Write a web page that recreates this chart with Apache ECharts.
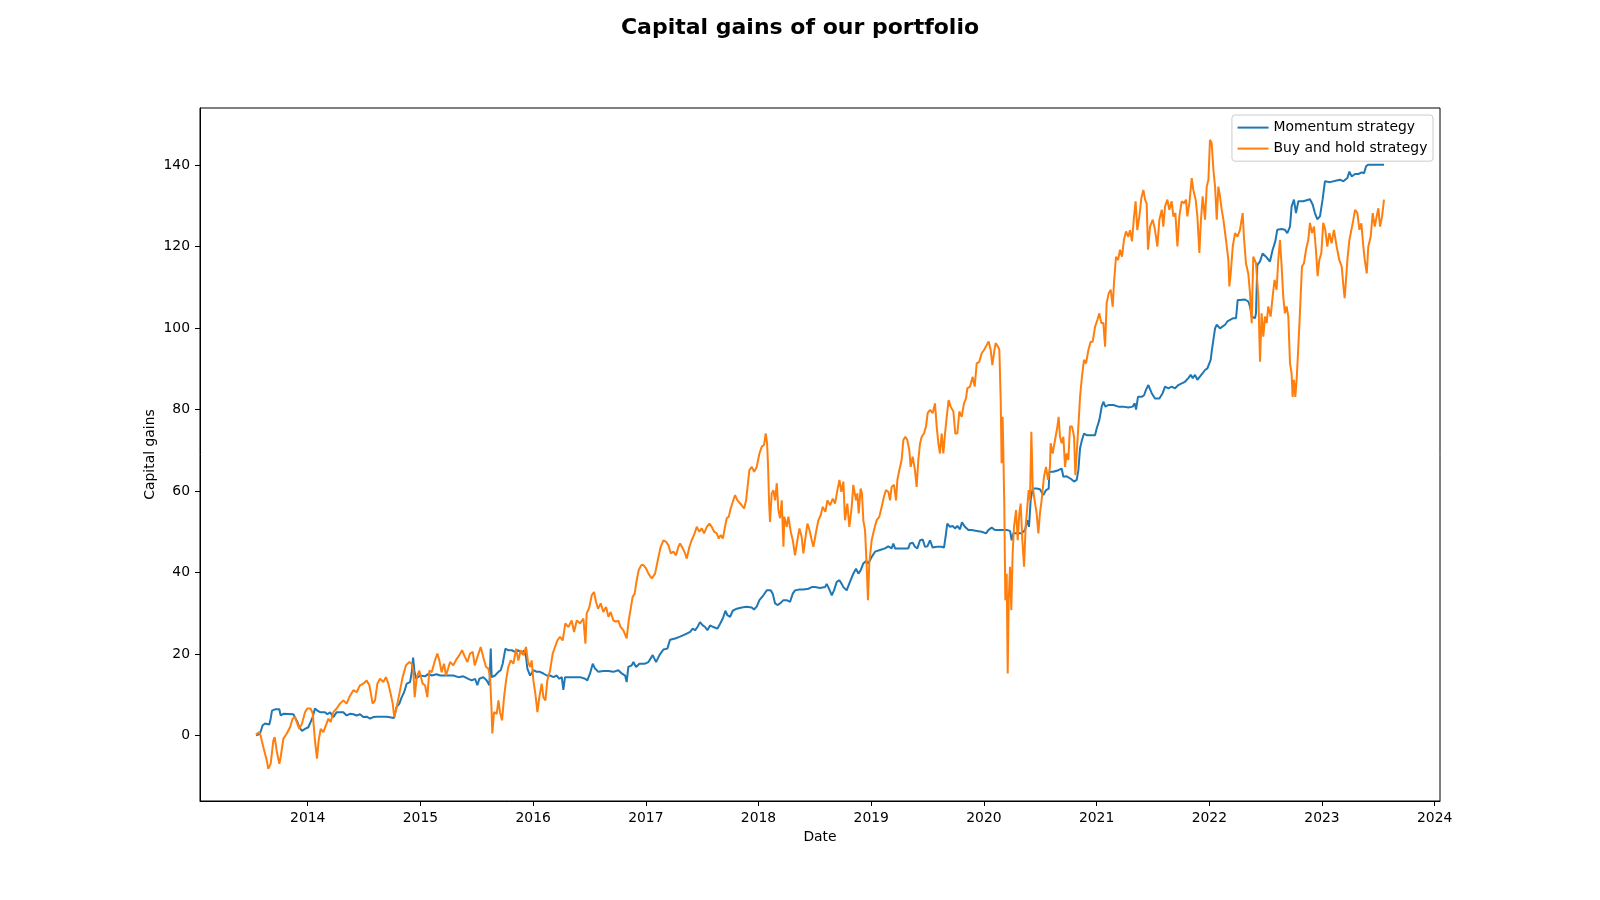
<!DOCTYPE html>
<html>
<head>
<meta charset="utf-8">
<script src="https://cdn.jsdelivr.net/npm/echarts@6/dist/echarts.min.js"></script>
<style>
html,body{margin:0;padding:0;background:#fff;}
#chart{width:1600px;height:900px;}
</style>
</head>
<body>
<div id="chart"></div>
<script>
// Dates are given as decimal years (e.g. 2013.541 = mid July 2013)
const momentumYear = [
2013.541,2013.576,2013.600,2013.621,2013.659,2013.671,2013.683,2013.710,2013.748,2013.760,2013.784,2013.872,2013.908,2013.925,2013.949,2013.976,
2014.005,2014.026,2014.044,2014.064,2014.085,2014.109,2014.153,2014.174,2014.198,2014.227,2014.257,2014.316,2014.345,2014.375,2014.405,2014.434,
2014.464,2014.493,2014.523,2014.553,2014.582,2014.612,2014.701,2014.766,2014.789,2014.813,2014.834,2014.855,2014.878,2014.908,2014.923,2014.935,
2014.946,2014.961,2014.996,2015.041,2015.071,2015.100,2015.144,2015.174,2015.233,2015.292,2015.337,2015.381,2015.425,2015.455,2015.485,2015.505,
2015.523,2015.558,2015.588,2015.612,2015.624,2015.632,2015.662,2015.692,2015.712,2015.730,2015.754,2015.780,2015.810,2015.840,2015.869,2015.899,
2015.919,2015.937,2015.949,2015.973,2016.002,2016.032,2016.061,2016.091,2016.120,2016.150,2016.180,2016.209,2016.233,2016.254,2016.268,2016.283,
2016.357,2016.416,2016.461,2016.481,2016.505,2016.529,2016.549,2016.579,2016.623,2016.668,2016.712,2016.756,2016.786,2016.816,2016.830,2016.845,
2016.875,2016.890,2016.913,2016.943,2016.993,2017.023,2017.061,2017.091,2017.121,2017.156,2017.191,2017.215,2017.260,2017.298,2017.334,2017.363,
2017.393,2017.416,2017.437,2017.458,2017.481,2017.505,2017.526,2017.546,2017.570,2017.600,2017.635,2017.659,2017.683,2017.706,2017.724,2017.748,
2017.771,2017.807,2017.851,2017.895,2017.940,2017.960,2017.984,2018.008,2018.043,2018.073,2018.088,2018.108,2018.126,2018.147,2018.168,2018.191,
2018.221,2018.250,2018.280,2018.304,2018.324,2018.363,2018.398,2018.443,2018.472,2018.502,2018.546,2018.590,2018.605,2018.629,2018.650,2018.670,
2018.694,2018.718,2018.738,2018.753,2018.782,2018.806,2018.841,2018.865,2018.886,2018.906,2018.930,2018.954,2018.974,2019.004,2019.034,2019.078,
2019.122,2019.152,2019.181,2019.196,2019.211,2019.241,2019.285,2019.329,2019.344,2019.368,2019.388,2019.409,2019.433,2019.457,2019.477,2019.498,
2019.522,2019.545,2019.581,2019.625,2019.646,2019.664,2019.675,2019.699,2019.723,2019.743,2019.764,2019.788,2019.805,2019.832,2019.862,2019.891,
2019.936,2019.980,2020.019,2020.039,2020.069,2020.098,2020.143,2020.202,2020.232,2020.246,2020.261,2020.291,2020.335,2020.365,2020.385,2020.400,
2020.415,2020.433,2020.468,2020.497,2020.527,2020.551,2020.575,2020.581,2020.616,2020.660,2020.690,2020.705,2020.734,2020.770,2020.800,2020.823,
2020.838,2020.853,2020.870,2020.888,2020.912,2020.956,2020.986,2021.001,2021.024,2021.045,2021.060,2021.078,2021.104,2021.149,2021.193,2021.237,
2021.281,2021.320,2021.338,2021.350,2021.367,2021.400,2021.421,2021.438,2021.459,2021.474,2021.489,2021.518,2021.557,2021.586,2021.607,2021.637,
2021.666,2021.696,2021.725,2021.755,2021.784,2021.814,2021.835,2021.853,2021.873,2021.894,2021.918,2021.941,2021.962,2021.983,2022.000,2022.012,
2022.021,2022.036,2022.051,2022.066,2022.095,2022.119,2022.140,2022.160,2022.184,2022.213,2022.237,2022.252,2022.272,2022.317,2022.346,2022.361,
2022.376,2022.405,2022.414,2022.426,2022.449,2022.473,2022.503,2022.538,2022.562,2022.585,2022.603,2022.642,2022.671,2022.692,2022.716,2022.730,
2022.751,2022.769,2022.790,2022.834,2022.893,2022.917,2022.937,2022.958,2022.982,2023.005,2023.026,2023.071,2023.130,2023.160,2023.190,2023.225,
2023.243,2023.263,2023.293,2023.323,2023.352,2023.373,2023.391,2023.411,2023.550
];
const momentumGain = [
0.0,0.4,2.5,2.9,2.7,4.1,6.1,6.4,6.4,4.9,5.3,5.2,3.3,2.0,1.1,1.6,
2.0,3.3,4.5,6.6,6.1,5.7,5.7,5.2,5.7,4.5,5.7,5.7,4.9,5.3,5.2,4.9,
5.2,4.5,4.6,4.1,4.5,4.6,4.6,4.3,7.0,7.8,9.4,10.6,12.7,13.1,15.5,19.1,
15.9,13.9,14.7,14.5,15.1,14.7,15.0,14.7,14.7,14.7,14.3,14.5,13.9,13.5,13.9,12.3,
13.9,14.3,13.5,12.3,21.3,14.3,14.7,15.6,16.0,17.6,21.3,20.9,20.9,20.5,20.9,20.1,
20.9,19.2,16.4,14.7,16.0,15.6,15.6,15.2,14.7,14.7,14.3,14.7,13.9,14.3,11.2,14.3,
14.3,14.3,13.9,13.5,15.2,17.6,16.4,15.6,15.8,15.8,15.6,16.0,15.2,14.7,13.1,16.8,
17.2,18.0,16.8,17.6,17.6,18.0,19.7,18.0,19.7,21.1,21.3,23.5,23.8,24.2,24.6,25.0,
25.4,26.2,25.8,26.6,27.8,27.0,26.6,25.8,27.0,26.6,26.2,27.4,28.7,30.6,29.5,29.1,
30.6,31.1,31.4,31.6,31.4,30.9,31.6,33.2,34.4,35.6,36.0,35.6,34.8,32.4,32.0,32.4,
33.2,33.2,32.8,34.8,35.6,35.8,35.8,36.0,36.4,36.4,36.2,36.4,37.2,35.8,34.4,35.6,
37.7,38.1,37.2,36.4,35.6,37.3,39.7,40.9,39.7,40.5,42.2,42.8,42.2,43.8,45.1,45.5,
45.9,46.4,45.9,47.1,45.9,45.9,45.9,45.9,47.1,47.3,46.3,45.9,47.9,48.1,46.3,46.4,
47.9,46.1,46.3,46.3,46.1,49.6,52.0,51.2,51.4,50.8,51.4,50.6,52.3,51.2,50.4,50.4,
50.2,50.0,49.6,50.4,51.0,50.4,50.4,50.4,50.2,47.9,49.6,49.6,49.6,50.4,52.8,51.2,
57.8,60.6,60.6,60.4,59.0,60.2,60.6,64.7,64.7,65.1,65.5,63.5,63.6,63.0,62.3,62.7,
65.1,70.5,72.5,74.1,73.7,73.7,73.7,75.4,77.4,80.7,81.9,80.7,81.1,81.1,80.7,80.7,
80.5,80.7,81.5,80.0,83.1,83.1,83.5,84.8,86.0,86.0,84.0,82.7,82.7,84.0,85.6,85.2,
85.6,85.2,86.0,86.4,86.8,87.7,88.5,87.7,88.5,87.3,88.1,88.9,89.7,90.1,90.5,92.2,
94.2,94.6,99.9,100.8,99.9,100.4,100.8,101.6,102.0,102.4,102.4,106.9,106.9,107.0,106.5,105.3,
102.8,102.4,103.6,115.5,116.3,118.3,117.5,116.3,119.2,121.2,124.1,124.3,124.1,123.3,124.9,129.8,
131.5,128.2,131.1,131.1,131.6,130.3,128.2,126.7,127.4,131.5,136.0,135.8,136.2,136.4,136.0,136.8,
138.4,137.2,137.8,137.8,138.2,138.0,139.7,140.1,140.1
];
const buyHoldYear = [
2013.541,2013.570,2013.582,2013.606,2013.636,2013.650,2013.671,2013.695,2013.707,2013.724,2013.748,2013.760,2013.784,2013.813,2013.843,2013.866,
2013.887,2013.902,2013.925,2013.949,2013.976,2013.996,2014.026,2014.044,2014.064,2014.082,2014.097,2014.115,2014.138,2014.162,2014.183,2014.203,
2014.227,2014.257,2014.286,2014.316,2014.345,2014.369,2014.405,2014.434,2014.464,2014.493,2014.523,2014.547,2014.576,2014.597,2014.618,2014.641,
2014.671,2014.694,2014.715,2014.736,2014.754,2014.768,2014.789,2014.813,2014.842,2014.872,2014.902,2014.922,2014.937,2014.949,2014.967,2014.990,
2015.020,2015.041,2015.061,2015.079,2015.100,2015.129,2015.150,2015.168,2015.188,2015.209,2015.227,2015.263,2015.292,2015.322,2015.346,2015.369,
2015.396,2015.417,2015.440,2015.464,2015.482,2015.505,2015.535,2015.558,2015.582,2015.603,2015.618,2015.630,2015.638,2015.653,2015.677,2015.692,
2015.706,2015.724,2015.742,2015.760,2015.780,2015.801,2015.825,2015.849,2015.869,2015.890,2015.913,2015.937,2015.955,2015.973,2015.987,2016.002,
2016.020,2016.038,2016.055,2016.076,2016.091,2016.109,2016.126,2016.150,2016.174,2016.194,2016.215,2016.239,2016.262,2016.286,2016.313,2016.342,
2016.363,2016.387,2016.416,2016.446,2016.464,2016.475,2016.499,2016.520,2016.540,2016.558,2016.576,2016.600,2016.623,2016.647,2016.668,2016.688,
2016.712,2016.736,2016.756,2016.777,2016.801,2016.818,2016.830,2016.848,2016.866,2016.883,2016.901,2016.919,2016.937,2016.960,2016.979,2017.002,
2017.023,2017.053,2017.082,2017.112,2017.132,2017.156,2017.180,2017.200,2017.221,2017.245,2017.268,2017.289,2017.304,2017.328,2017.348,2017.363,
2017.387,2017.407,2017.428,2017.452,2017.475,2017.496,2017.517,2017.541,2017.564,2017.585,2017.606,2017.629,2017.647,2017.665,2017.683,2017.700,
2017.718,2017.736,2017.753,2017.771,2017.792,2017.813,2017.830,2017.851,2017.872,2017.890,2017.901,2017.919,2017.940,2017.961,2017.984,2018.008,
2018.029,2018.049,2018.064,2018.076,2018.085,2018.094,2018.102,2018.117,2018.132,2018.147,2018.162,2018.176,2018.191,2018.206,2018.221,2018.229,
2018.250,2018.265,2018.286,2018.304,2018.324,2018.345,2018.363,2018.383,2018.398,2018.413,2018.434,2018.452,2018.472,2018.487,2018.511,2018.531,
2018.552,2018.570,2018.593,2018.611,2018.635,2018.659,2018.679,2018.700,2018.718,2018.735,2018.753,2018.767,2018.788,2018.806,2018.827,2018.841,
2018.865,2018.877,2018.889,2018.906,2018.918,2018.930,2018.945,2018.960,2018.971,2018.983,2019.004,2019.025,2019.048,2019.072,2019.093,2019.113,
2019.131,2019.152,2019.167,2019.181,2019.202,2019.220,2019.232,2019.249,2019.270,2019.285,2019.303,2019.320,2019.338,2019.350,2019.368,2019.388,
2019.403,2019.418,2019.433,2019.448,2019.468,2019.486,2019.501,2019.522,2019.545,2019.566,2019.581,2019.596,2019.610,2019.625,2019.640,2019.655,
2019.670,2019.687,2019.705,2019.729,2019.746,2019.764,2019.782,2019.803,2019.823,2019.841,2019.853,2019.876,2019.900,2019.918,2019.936,2019.959,
2019.980,2020.001,2020.024,2020.042,2020.060,2020.075,2020.089,2020.104,2020.125,2020.137,2020.149,2020.157,2020.166,2020.172,2020.181,2020.190,
2020.202,2020.211,2020.220,2020.232,2020.243,2020.255,2020.267,2020.285,2020.300,2020.314,2020.326,2020.341,2020.356,2020.370,2020.385,2020.397,
2020.409,2020.421,2020.433,2020.450,2020.468,2020.483,2020.497,2020.512,2020.533,2020.551,2020.569,2020.586,2020.592,2020.610,2020.631,2020.652,
2020.663,2020.675,2020.690,2020.705,2020.720,2020.734,2020.749,2020.764,2020.782,2020.800,2020.811,2020.823,2020.838,2020.853,2020.870,2020.888,
2020.906,2020.927,2020.947,2020.965,2020.986,2021.007,2021.024,2021.042,2021.060,2021.075,2021.089,2021.107,2021.125,2021.143,2021.154,2021.172,
2021.190,2021.208,2021.225,2021.243,2021.261,2021.281,2021.296,2021.314,2021.332,2021.346,2021.361,2021.379,2021.397,2021.415,2021.430,2021.444,
2021.456,2021.474,2021.498,2021.518,2021.539,2021.557,2021.578,2021.592,2021.607,2021.628,2021.645,2021.666,2021.681,2021.699,2021.717,2021.734,
2021.755,2021.776,2021.793,2021.805,2021.823,2021.844,2021.858,2021.879,2021.894,2021.912,2021.924,2021.941,2021.962,2021.977,2021.992,2022.006,
2022.021,2022.036,2022.051,2022.066,2022.080,2022.095,2022.110,2022.125,2022.148,2022.169,2022.178,2022.190,2022.208,2022.228,2022.249,2022.272,
2022.296,2022.308,2022.325,2022.346,2022.361,2022.376,2022.390,2022.414,2022.435,2022.450,2022.464,2022.479,2022.494,2022.509,2022.523,2022.544,
2022.562,2022.579,2022.597,2022.612,2022.627,2022.642,2022.656,2022.671,2022.686,2022.701,2022.716,2022.730,2022.739,2022.751,2022.763,2022.775,
2022.790,2022.804,2022.822,2022.840,2022.858,2022.878,2022.893,2022.911,2022.929,2022.946,2022.961,2022.976,2022.994,2023.011,2023.029,2023.047,
2023.065,2023.085,2023.106,2023.130,2023.153,2023.175,2023.190,2023.201,2023.213,2023.225,2023.243,2023.261,2023.278,2023.293,2023.314,2023.332,
2023.349,2023.367,2023.379,2023.397,2023.411,2023.432,2023.450,2023.468,2023.485,2023.500,2023.515,2023.533,2023.550
];
const buyHoldGain = [
0.2,0.8,-0.1,-2.9,-6.1,-8.2,-7.0,-1.2,-0.4,-3.7,-7.0,-5.3,-0.8,0.4,2.0,4.1,
4.5,3.3,1.6,2.9,5.7,6.6,6.6,5.4,-1.2,-5.7,-1.2,1.6,0.8,2.5,4.1,3.3,
5.7,6.6,7.8,8.6,7.8,9.4,11.1,10.6,12.3,12.7,13.5,12.3,7.8,8.6,12.7,13.9,
13.1,14.3,12.7,10.2,7.8,4.5,7.0,10.2,14.3,17.2,18.0,17.6,15.9,9.4,14.3,15.9,
12.7,12.3,9.4,15.9,15.5,18.4,20.1,18.4,15.5,17.6,14.7,18.0,17.2,18.8,19.7,20.9,
19.2,18.0,20.1,20.5,17.2,19.2,21.7,19.2,16.8,16.4,14.3,7.0,0.5,5.7,5.3,8.6,
5.7,3.7,9.4,13.5,16.8,18.4,17.6,21.3,18.4,20.9,19.7,21.7,18.0,16.8,18.4,13.5,
10.2,5.7,9.4,12.7,9.4,8.6,13.5,15.9,20.1,21.7,23.3,24.2,23.3,27.5,26.6,28.2,
25.4,28.2,27.5,28.7,22.5,29.9,31.5,34.4,35.2,32.8,31.1,32.4,30.3,31.5,29.1,30.3,
28.2,27.9,28.2,26.6,25.8,25.4,23.8,28.2,31.1,34.0,34.8,38.1,40.6,41.8,41.8,41.0,
39.7,38.5,39.7,43.8,46.3,47.9,47.5,46.7,44.7,45.1,44.2,46.3,47.1,45.9,44.7,43.4,
46.3,47.9,49.2,51.2,50.0,50.8,49.6,51.2,52.0,51.2,50.0,49.6,48.3,49.2,48.3,50.8,
53.3,53.7,55.7,57.3,59.0,57.7,57.3,56.5,55.7,57.7,60.6,65.1,65.9,64.7,65.9,69.2,
70.9,71.3,74.1,71.7,65.9,56.9,52.4,59.4,60.2,57.7,61.9,55.3,53.3,57.7,46.3,53.7,
51.2,53.7,50.0,47.9,44.2,47.9,50.8,48.7,44.7,47.9,52.0,50.4,47.9,46.3,50.0,52.8,
54.1,56.1,54.9,57.7,56.5,58.1,56.9,60.2,62.7,59.8,62.3,52.8,56.9,51.2,56.1,61.5,
57.7,59.4,54.5,60.6,59.4,52.8,50.4,41.4,33.2,42.2,47.9,50.4,52.8,53.7,56.1,58.6,
60.2,59.8,57.7,61.0,61.5,57.7,62.7,65.1,67.6,72.5,73.3,72.5,70.0,65.9,68.4,65.1,
61.0,67.6,71.6,73.3,74.1,75.8,79.1,79.9,79.1,81.5,75.8,71.7,69.2,74.1,69.2,74.1,
78.2,82.3,80.7,79.5,74.1,74.1,79.5,78.2,81.5,82.7,85.2,85.6,88.0,85.6,91.3,91.7,
93.8,94.6,95.8,96.7,94.6,90.9,93.8,96.3,95.4,94.6,82.3,66.8,78.2,70.0,56.1,33.2,
39.7,15.2,33.2,41.4,30.7,44.7,51.2,55.3,47.9,54.5,56.9,47.9,41.4,51.2,56.1,60.2,
57.7,74.5,61.0,57.7,54.5,49.6,54.5,57.7,63.5,65.9,62.7,65.9,71.7,69.2,72.5,75.8,
78.2,73.3,71.7,73.3,65.9,69.2,67.6,75.8,75.8,73.3,63.9,69.2,75.8,83.1,88.1,92.2,
91.3,94.6,96.6,96.6,100.3,102.0,103.6,101.2,101.2,95.4,106.1,108.5,109.4,105.2,111.0,117.5,
116.7,119.2,117.5,121.7,123.7,122.4,124.0,121.3,127.4,131.1,124.0,127.4,131.9,133.9,131.5,130.6,
119.2,124.9,126.6,124.1,120.0,126.6,129.0,124.9,129.8,131.5,129.0,131.1,127.4,128.2,120.0,127.4,
131.1,130.6,131.5,127.4,130.6,136.8,133.9,131.5,127.4,118.4,125.7,132.3,126.6,134.7,136.4,146.2,
145.4,138.9,134.7,126.6,134.7,132.3,129.0,126.6,121.6,116.7,110.2,113.4,120.0,123.3,122.4,124.1,
128.2,122.0,115.9,113.3,108.6,101.2,117.5,116.0,107.7,91.7,103.6,97.9,102.8,101.2,105.3,102.8,
107.7,111.8,109.4,116.7,121.6,115.1,107.7,103.6,105.3,102.8,91.3,88.9,83.1,87.3,83.1,87.3,
95.5,103.6,115.1,115.9,119.2,121.6,125.8,123.3,124.9,119.2,112.7,116.7,118.4,125.8,124.1,120.0,
123.3,120.8,124.1,120.0,116.7,115.1,110.2,107.3,111.8,116.7,121.6,124.1,126.6,129.0,128.2,124.1,
125.7,120.0,116.7,113.4,120.0,122.4,128.2,124.9,127.4,129.4,124.9,127.4,131.5
];
const xTickYears = [2014,2015,2016,2017,2018,2019,2020,2021,2022,2023,2024];
const yTickValues = [0,20,40,60,80,100,120,140];
const seriesNames = ['Momentum strategy','Buy and hold strategy'];

const momentumData = momentumYear.map((x, i) => [x, momentumGain[i]]);
const buyHoldData = buyHoldYear.map((x, i) => [x, buyHoldGain[i]]);

const FONT = 'DejaVu Sans';
const chart = echarts.init(document.getElementById('chart'), null, {renderer: 'canvas'});
chart.setOption({
  backgroundColor: '#ffffff',
  animation: false,
  textStyle: {fontFamily: FONT},
  title: {
    text: 'Capital gains of our portfolio',
    left: 'center',
    top: 12,
    textStyle: {fontFamily: FONT, fontSize: 22, fontWeight: 'bold', color: '#000'}
  },
  legend: {
    data: seriesNames,
    orient: 'vertical',
    right: 167,
    top: 115,
    padding: [5.6, 5.6, 5.6, 5.6],
    itemGap: 7,
    itemWidth: 31,
    itemHeight: 2,
    itemTextGap: 17,
    icon: 'rect',
    backgroundColor: 'rgba(255,255,255,0.8)',
    borderColor: '#cccccc',
    borderWidth: 1,
    borderRadius: 3,
    textStyle: {fontFamily: FONT, fontSize: 13.9, color: '#000', lineHeight: 14}
  },
  grid: {
    left: 200, right: 160, top: 108, bottom: 99,
    show: true, borderColor: '#000', borderWidth: 1, backgroundColor: 'transparent',
    containLabel: false
  },
  xAxis: {
    type: 'value',
    min: 2013.044,
    max: 2024.047,
    name: 'Date',
    nameLocation: 'middle',
    nameGap: 29,
    nameTextStyle: {fontFamily: FONT, fontSize: 13.9, color: '#000'},
    axisLine: {show: true, onZero: false, lineStyle: {color: '#000', width: 1}},
    axisTick: {show: true, inside: false, length: 5, lineStyle: {color: '#000', width: 1}, customValues: xTickYears},
    axisLabel: {show: true, margin: 10, fontFamily: FONT, fontSize: 13.9, color: '#000',
      customValues: xTickYears, formatter: v => String(Math.round(v))},
    splitLine: {show: false}
  },
  yAxis: {
    type: 'value',
    min: -16.1,
    max: 154.0,
    name: 'Capital gains',
    nameLocation: 'middle',
    nameGap: 43,
    nameMoveOverlap: false,
    nameTextStyle: {fontFamily: FONT, fontSize: 13.9, color: '#000'},
    axisLine: {show: true, onZero: false, lineStyle: {color: '#000', width: 1}},
    axisTick: {show: true, inside: false, length: 5, lineStyle: {color: '#000', width: 1}, customValues: yTickValues},
    axisLabel: {show: true, margin: 10, fontFamily: FONT, fontSize: 13.9, color: '#000',
      customValues: yTickValues, formatter: v => String(Math.round(v))},
    splitLine: {show: false}
  },
  series: [
    {
      name: seriesNames[0],
      type: 'line',
      data: momentumData,
      showSymbol: false,
      symbol: 'none',
      color: '#1f77b4',
      lineStyle: {color: '#1f77b4', width: 2},
      clip: true,
      z: 2
    },
    {
      name: seriesNames[1],
      type: 'line',
      data: buyHoldData,
      showSymbol: false,
      symbol: 'none',
      color: '#ff7f0e',
      lineStyle: {color: '#ff7f0e', width: 2},
      clip: true,
      z: 3
    }
  ]
});
</script>
</body>
</html>
